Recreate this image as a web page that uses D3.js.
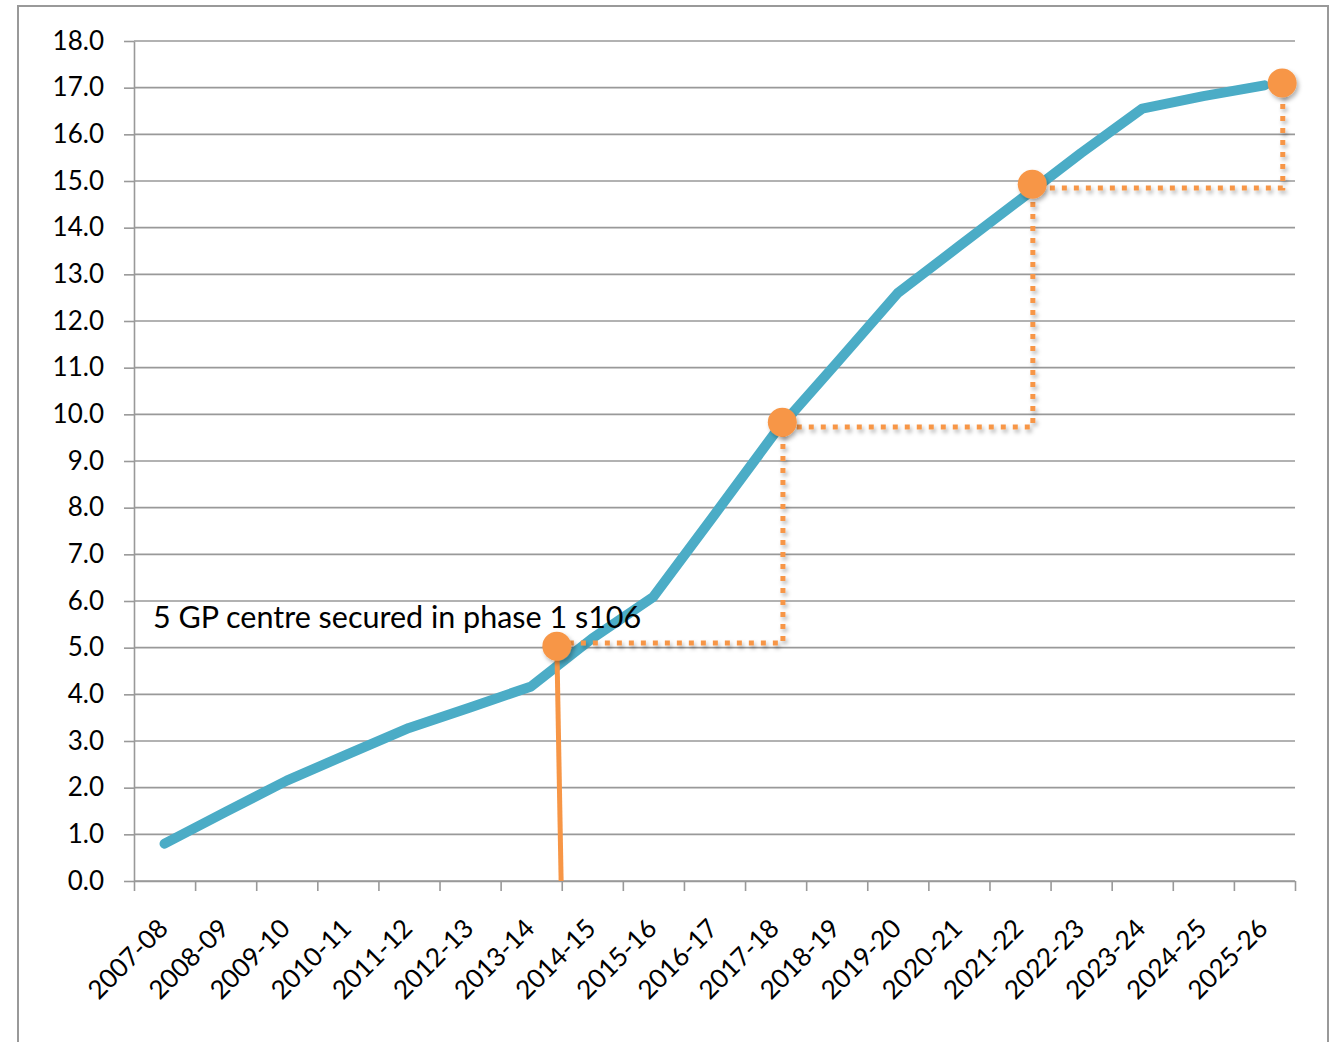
<!DOCTYPE html>
<html>
<head>
<meta charset="utf-8">
<script src="https://cdn.jsdelivr.net/npm/d3@7"></script>
<style>
  body { margin: 0; background: #fff; }
  text { font-family: Lato, "Open Sans", sans-serif; fill: #000; }
</style>
</head>
<body>
<div id="my_dataviz"></div>
<script>
// categories (financial years) and cumulative values
var years = ["2007-08", "2008-09", "2009-10", "2010-11", "2011-12", "2012-13", "2013-14",
  "2014-15", "2015-16", "2016-17", "2017-18", "2018-19", "2019-20", "2020-21",
  "2021-22", "2022-23", "2023-24", "2024-25", "2025-26"]
var values = [0.8, 1.48, 2.15, 2.72, 3.28, 3.72, 4.17, 5.2, 6.09, 7.85, 9.62, 11.1, 12.6,
  13.6, 14.6, 15.6, 16.55, 16.82, 17.05]

// milestone markers (x in axis units, 0 = left edge, 19 = right edge)
var milestoneX = [6.92, 10.61, 14.70, 18.79]
var milestoneY = [5.03, 9.83, 14.93, 17.1]
// levels of the dotted steps between the milestones
var stepLevels = [5.1, 9.73, 14.85]
var stepX = [10.62, 14.71, 18.80]
// solid drop line from the first milestone down to the axis
var dropBottomX = 6.99

var yTicks = d3.range(0, 19)
var annotation = "5 GP centre secured in phase 1 s106"

var W = 1342, H = 1042
var margin = { top: 41, right: 47, bottom: 161, left: 134 }
var width = W - margin.left - margin.right,
  height = H - margin.top - margin.bottom

var svg0 = d3.select("#my_dataviz")
  .append("svg")
  .attr("width", W)
  .attr("height", H)

// drop shadow for the orange marks
var defs = svg0.append("defs")
defs.append("filter")
  .attr("id", "shadow")
  .attr("x", "-50%").attr("y", "-50%")
  .attr("width", "200%").attr("height", "200%")
  .append("feDropShadow")
  .attr("dx", 2).attr("dy", 3)
  .attr("stdDeviation", 2)
  .attr("flood-color", "#000")
  .attr("flood-opacity", 0.3)

// outer frame
svg0.append("rect")
  .attr("x", 18).attr("y", 6)
  .attr("width", 1310).attr("height", 1080)
  .attr("fill", "none")
  .attr("stroke", "#999")
  .attr("stroke-width", 2)

var svg = svg0.append("g")
  .attr("transform", "translate(" + margin.left + "," + margin.top + ")")

// scales
var x = d3.scaleBand().domain(years).range([0, width])
var xl = d3.scaleLinear().domain([0, years.length]).range([0, width])
var y = d3.scaleLinear().domain([0, 18]).range([height, 0])

// gridlines
svg.append("g")
  .selectAll("line")
  .data(yTicks)
  .enter()
  .append("line")
  .attr("x1", 0).attr("x2", width)
  .attr("y1", function(d) { return y(d) })
  .attr("y2", function(d) { return y(d) })
  .attr("stroke", "#999")
  .attr("stroke-width", 1.6)

// Y axis
var yAxis = svg.append("g")
  .call(d3.axisLeft(y)
    .tickValues(yTicks)
    .tickFormat(d3.format(".1f"))
    .tickSizeInner(10)
    .tickSizeOuter(0)
    .tickPadding(20))
yAxis.select(".domain").attr("stroke", "#999").attr("stroke-width", 1.6)
yAxis.selectAll(".tick line").attr("stroke", "#999").attr("stroke-width", 1.6)
yAxis.selectAll("text")
  .style("font-size", "26px")
  .style("font-family", "Lato, sans-serif")
  .attr("fill", "#000")

// X axis: tick marks at category edges
var xAxis = svg.append("g")
  .attr("transform", "translate(0," + height + ")")
  .call(d3.axisBottom(xl)
    .tickValues(d3.range(0, years.length + 1))
    .tickFormat("")
    .tickSizeInner(10)
    .tickSizeOuter(0))
xAxis.select(".domain").attr("stroke", "#999").attr("stroke-width", 1.6)
xAxis.selectAll(".tick line").attr("stroke", "#999").attr("stroke-width", 1.6)

// X labels, rotated
svg.append("g")
  .selectAll("text")
  .data(years)
  .enter()
  .append("text")
  .attr("transform", function(d) {
    return "translate(" + (x(d) + x.bandwidth() / 2 + 5) + "," + (height + 49) + ")rotate(-45)"
  })
  .attr("text-anchor", "end")
  .style("font-size", "26px")
  .text(function(d) { return d })

// main series line
svg.append("path")
  .datum(values)
  .attr("fill", "none")
  .attr("stroke", "#4BACC6")
  .attr("stroke-width", 10)
  .attr("stroke-linecap", "round")
  .attr("stroke-linejoin", "round")
  .attr("d", d3.line()
    .x(function(d, i) { return x(years[i]) + x.bandwidth() / 2 })
    .y(function(d) { return y(d) }))

// dotted step path between milestones
var stepPts = [[milestoneX[0], stepLevels[0]]]
stepX.forEach(function(sx, i) {
  stepPts.push([sx, stepLevels[i]])
  stepPts.push([sx, i + 1 < stepLevels.length ? stepLevels[i + 1] : milestoneY[i + 1]])
})
svg.append("path")
  .datum(stepPts)
  .attr("fill", "none")
  .attr("stroke", "#F79646")
  .attr("stroke-width", 5)
  .attr("stroke-dasharray", "5,7")
  .attr("filter", "url(#shadow)")
  .attr("d", d3.line()
    .x(function(d) { return xl(d[0]) })
    .y(function(d) { return y(d[1]) }))

// solid drop line
svg.append("line")
  .attr("x1", xl(milestoneX[0])).attr("y1", y(milestoneY[0]))
  .attr("x2", xl(dropBottomX)).attr("y2", y(0))
  .attr("stroke", "#F79646")
  .attr("stroke-width", 5)

// milestone dots
svg.append("g")
  .selectAll("circle")
  .data(milestoneX)
  .enter()
  .append("circle")
  .attr("cx", function(d) { return xl(d) })
  .attr("cy", function(d, i) { return y(milestoneY[i]) })
  .attr("r", 14.5)
  .attr("fill", "#F79646")
  .attr("filter", "url(#shadow)")

// annotation
svg.append("text")
  .attr("x", 153 - margin.left)
  .attr("y", 628 - margin.top)
  .style("font-size", "30.5px")
  .text(annotation)
</script>
</body>
</html>
